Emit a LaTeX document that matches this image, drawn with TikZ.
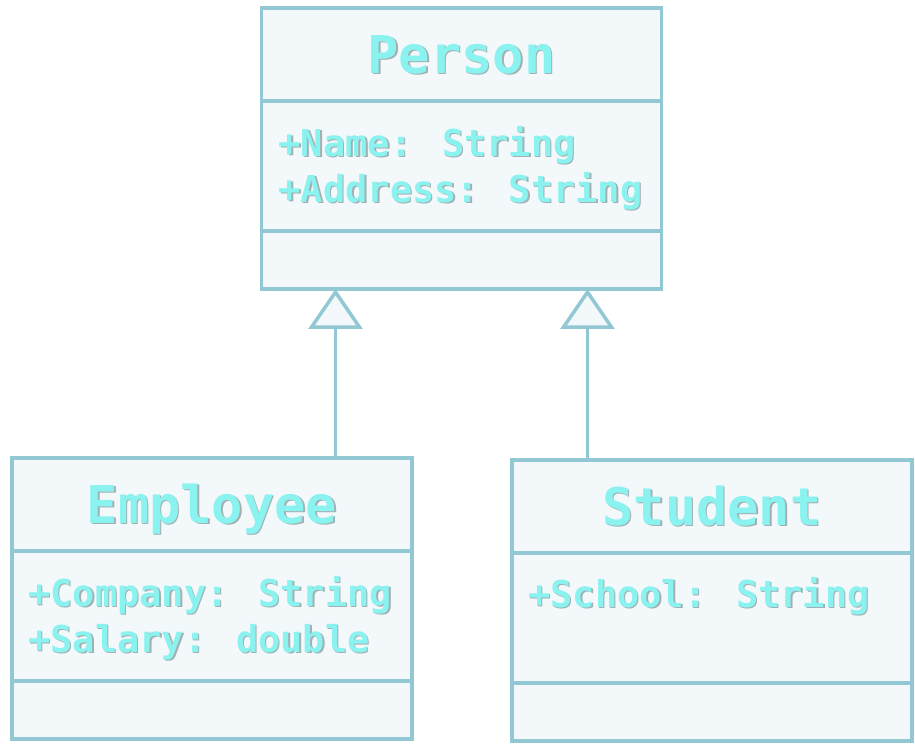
\documentclass[tikz,border=0pt]{standalone}
\usepackage{fontspec}
\usetikzlibrary{positioning,arrows.meta}
\newfontfamily\umlfont{DejaVu Sans Mono}
\definecolor{umlline}{HTML}{91C8D4}
\definecolor{umlfill}{HTML}{F3F8FB}
\definecolor{umltext}{HTML}{8AF2EF}
\definecolor{umlshade}{HTML}{A3B0B2}
% text with a small grey drop shadow
\newcommand{\shtxt}[1]{\rlap{\hspace{1.5pt}\raisebox{-1.5pt}{\color{umlshade}#1}}#1}
\tikzset{
  compartment/.style={draw=umlline, fill=umlfill, line width=3.5pt, rectangle,
    minimum width=400pt, inner sep=0pt, outer sep=0pt},
  classname/.style={compartment, minimum height=93pt, text=umltext,
    font=\umlfont\bfseries\fontsize{52}{52}\selectfont, text height=38pt, text depth=0pt},
  attrbox/.style={compartment, minimum height=130pt},
  opsbox/.style={compartment, minimum height=58pt},
  attrs/.style={text=umltext, align=left, inner sep=0pt,
    font=\umlfont\bfseries\fontsize{37}{46}\selectfont},
  inherits/.style={draw=umlline, line width=3.5pt,
    -{Triangle[width=54pt,length=40pt,fill=umlfill]}},
}
\begin{document}
\begin{tikzpicture}[x=1pt,y=1pt]
    \useasboundingbox (0,0) rectangle (915,744);

    % Person
    \node[classname] (person) at (461.5,689.5) {\shtxt{Person}};
    \node[attrbox, below=0pt of person] (person-attr) {};
    \node[opsbox, below=0pt of person-attr] (person-ops) {};
    \node[attrs, below right=25pt and 17pt of person-attr.north west] (person-fields)
      {\shtxt{+Name: String}\\\shtxt{+Address: String}};

    % Employee
    \node[classname] (employee) at (212,239.5) {\shtxt{Employee}};
    \node[attrbox, below=0pt of employee] (employee-attr) {};
    \node[opsbox, below=0pt of employee-attr] (employee-ops) {};
    \node[attrs, below right=25pt and 16pt of employee-attr.north west] (employee-fields)
      {\shtxt{+Company: String}\\\shtxt{+Salary: double}};

    % Student
    \node[classname] (student) at (712,237.5) {\shtxt{Student}};
    \node[attrbox, below=0pt of student] (student-attr) {};
    \node[opsbox, below=0pt of student-attr] (student-ops) {};
    \node[attrs, below right=24pt and 16pt of student-attr.north west] (student-fields)
      {\shtxt{+School: String}};

    % Generalisations
    \coordinate (gen-left) at ([xshift=-126pt]person-ops.south);
    \coordinate (gen-right) at ([xshift=126pt]person-ops.south);
    \draw[inherits] (employee.north -| gen-left) -- (gen-left);
    \draw[inherits] (student.north -| gen-right) -- (gen-right);
  \end{tikzpicture}
\end{document}
